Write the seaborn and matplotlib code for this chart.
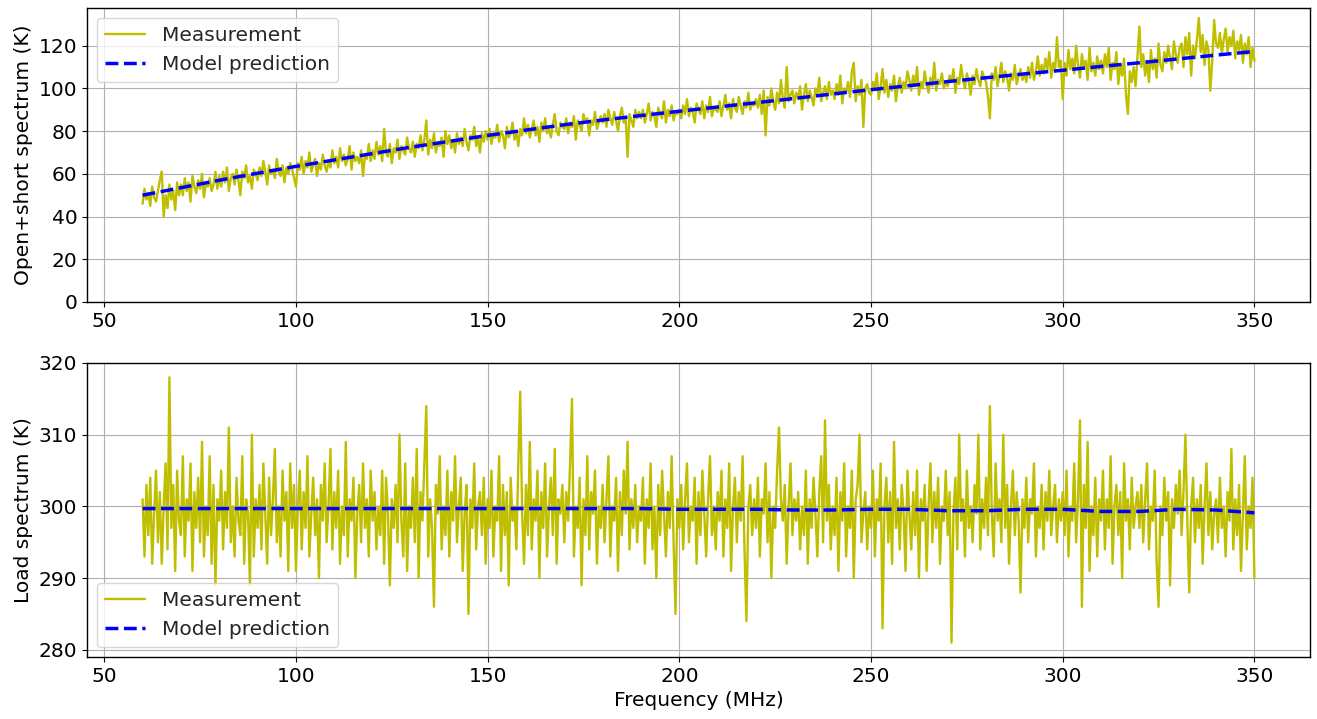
import numpy as np
import matplotlib
matplotlib.use("Agg")
import matplotlib.pyplot as plt
import seaborn as sns

# 측정값 (0.5 MHz 간격, 60 ~ 350 MHz) - 그림에서 읽은 값
open_short_meas = [
    46, 53, 48, 51, 45, 54, 49, 47, 52, 57, 61, 40, 50, 44, 55, 48, 52, 43, 56, 50,
    55, 50, 58, 52, 56, 47, 59, 54, 51, 57, 53, 60, 49, 56, 54, 58, 52, 55, 61, 53,
    59, 54, 61, 56, 63, 52, 58, 60, 55, 62, 57, 50, 61, 58, 64, 56, 59, 53, 62, 60,
    57, 63, 59, 66, 61, 55, 64, 60, 62, 58, 67, 61, 59, 64, 56, 63, 60, 65, 62, 58,
    54, 65, 62, 68, 60, 66, 63, 70, 61, 64, 67, 59, 65, 62, 69, 64, 61, 66, 63, 71,
    65, 68, 63, 72, 66, 69, 64, 67, 73, 62, 70, 66, 68, 65, 71, 59, 69, 67, 74, 66,
    71, 67, 75, 69, 73, 66, 81, 70, 68, 74, 65, 72, 70, 76, 67, 73, 71, 69, 77, 72,
    70, 75, 68, 74, 72, 78, 71, 76, 85, 69, 76, 72, 79, 70, 75, 73, 77, 68, 80, 74,
    78, 72, 76, 70, 79, 74, 77, 73, 81, 75, 71, 78, 76, 82, 73, 77, 70, 79, 75, 80,
    76, 81, 74, 79, 77, 83, 75, 80, 78, 72, 82, 77, 79, 84, 76, 80, 73, 81, 78, 86,
    79, 83, 77, 81, 85, 78, 82, 75, 84, 80, 86, 79, 81, 77, 83, 88, 80, 78, 84, 82,
    81, 86, 79, 84, 82, 87, 76, 85, 83, 80, 88, 84, 86, 78, 85, 83, 89, 81, 84, 87,
    84, 88, 82, 90, 86, 83, 89, 85, 80, 87, 91, 84, 86, 68, 88, 85, 82, 90, 86, 89,
    86, 90, 84, 88, 93, 85, 89, 87, 82, 91, 88, 86, 94, 84, 90, 87, 92, 85, 89, 88,
    90, 86, 92, 88, 95, 87, 91, 89, 84, 93, 90, 88, 94, 86, 92, 89, 96, 87, 91, 90,
    89, 94, 87, 92, 97, 90, 93, 86, 95, 91, 89, 96, 92, 88, 94, 91, 98, 90, 93, 92,
    95, 91, 97, 88, 99, 78, 96, 92, 100, 94, 90, 98, 93, 104, 95, 91, 110, 94, 97, 99,
    93, 98, 95, 101, 90, 97, 102, 94, 99, 96, 92, 100, 97, 105, 94, 98, 101, 95, 103, 97,
    99, 95, 102, 97, 106, 93, 100, 98, 103, 96, 108, 112, 94, 101, 97, 104, 82, 100, 102, 98,
    97, 103, 100, 107, 95, 101, 109, 98, 104, 96, 102, 99, 106, 94, 101, 105, 98, 103, 100, 108,
    104, 99, 106, 101, 110, 97, 103, 100, 108, 102, 98, 105, 101, 112, 99, 104, 102, 107, 100, 103,
    101, 106, 103, 109, 98, 105, 102, 111, 104, 100, 107, 103, 97, 106, 102, 109, 104, 101, 108, 105,
    103, 96, 86, 107, 104, 110, 101, 106, 112, 103, 108, 105, 99, 107, 104, 111, 102, 106, 109, 104,
    107, 103, 110, 105, 112, 104, 108, 115, 106, 111, 107, 114, 109, 117, 105, 112, 108, 124, 110, 113,
    95, 112, 106, 118, 109, 114, 107, 120, 111, 105, 116, 110, 113, 104, 119, 108, 112, 106, 115, 109,
    113, 107, 116, 110, 119, 104, 112, 109, 117, 102, 111, 106, 114, 97, 88, 108, 103, 110, 101, 115,
    129, 110, 116, 106, 113, 103, 118, 109, 114, 105, 121, 111, 108, 117, 112, 120, 114, 109, 122, 116,
    112, 119, 121, 110, 124, 116, 126, 106, 120, 114, 123, 133, 117, 125, 111, 122, 118, 99, 113, 132,
    121, 119, 126, 116, 123, 128, 117, 124, 120, 127, 114, 122, 118, 125, 112, 121, 116, 124, 110, 119,
    113,
]

load_meas = [
    301, 293, 303, 296, 304, 292, 299, 305, 295, 302, 292, 300, 306, 294, 318, 297, 303, 291, 305, 298,
    296, 307, 293, 301, 298, 306, 291, 302, 297, 304, 295, 309, 293, 300, 296, 307, 292, 303, 289, 301,
    298, 305, 294, 302, 297, 311, 295, 300, 293, 304, 298, 296, 307, 292, 301, 299, 289, 310, 293, 301,
    297, 303, 294, 306, 299, 292, 304, 296, 301, 308, 295, 300, 293, 305, 298, 302, 291, 306, 297, 303,
    291, 300, 305, 294, 302, 297, 307, 293, 299, 304, 296, 301, 290, 303, 298, 306, 295, 300, 308, 294,
    302, 297, 305, 292, 300, 296, 309, 293, 301, 298, 304, 290, 299, 303, 295, 306, 297, 301, 293, 305,
    298, 302, 294, 300, 296, 305, 292, 304, 299, 289, 301, 297, 303, 295, 310, 298, 293, 306, 291, 300,
    297, 304, 295, 308, 290, 302, 298, 306, 314, 293, 301, 297, 286, 303, 299, 307, 294, 300, 296, 305,
    293, 302, 298, 307, 295, 300, 304, 291, 299, 303, 285, 301, 297, 306, 294, 300, 302, 296, 304, 292,
    301, 297, 305, 293, 300, 298, 307, 291, 303, 296, 302, 289, 304, 298, 300, 294, 306, 316, 299, 292,
    303, 296, 309, 294, 301, 298, 305, 290, 302, 297, 306, 293, 300, 304, 296, 308, 292, 301, 299, 303,
    295, 302, 298, 306, 315, 293, 300, 297, 304, 289, 301, 296, 307, 294, 302, 299, 305, 292, 300, 297,
    303, 295, 301, 307, 293, 300, 298, 304, 291, 302, 296, 305, 299, 309, 294, 301, 297, 303, 295, 300,
    298, 304, 292, 301, 297, 306, 294, 300, 290, 303, 296, 305, 299, 293, 302, 297, 307, 295, 285, 301,
    297, 303, 294, 301, 306, 295, 300, 298, 304, 292, 302, 296, 305, 299, 293, 301, 307, 296, 300, 294,
    302, 298, 305, 293, 301, 297, 306, 291, 300, 304, 295, 302, 298, 307, 294, 284, 300, 303, 296, 301,
    297, 304, 293, 301, 299, 306, 295, 302, 290, 300, 297, 305, 311, 301, 298, 303, 292, 300, 306, 296,
    301, 298, 302, 294, 300, 296, 305, 292, 301, 297, 304, 299, 293, 302, 307, 295, 312, 298, 303, 294,
    300, 296, 304, 291, 302, 298, 306, 293, 300, 297, 305, 290, 301, 303, 310, 295, 299, 302, 294, 300,
    297, 305, 293, 301, 298, 306, 283, 300, 304, 295, 302, 292, 309, 297, 301, 294, 303, 299, 291, 305,
    299, 294, 302, 296, 305, 290, 301, 298, 303, 291, 300, 306, 295, 302, 297, 304, 292, 300, 298, 305,
    296, 302, 281, 299, 304, 294, 310, 298, 301, 293, 305, 297, 300, 295, 303, 299, 310, 294, 301, 297,
    304, 296, 314, 299, 293, 306, 298, 301, 295, 310, 297, 303, 292, 300, 305, 296, 302, 298, 288, 301,
    297, 304, 295, 301, 299, 306, 293, 300, 297, 303, 294, 302, 298, 305, 296, 300, 303, 295, 301, 298,
    302, 296, 305, 293, 300, 298, 306, 295, 301, 312, 286, 303, 297, 309, 291, 300, 296, 304, 293, 301,
    298, 305, 294, 301, 297, 307, 292, 300, 303, 296, 302, 290, 306, 298, 301, 294, 304, 297, 300, 302,
    297, 303, 295, 301, 306, 294, 300, 298, 305, 292, 286, 300, 296, 304, 298, 302, 289, 301, 297, 303,
    299, 305, 296, 302, 310, 298, 288, 300, 304, 295, 301, 297, 303, 292, 300, 306, 296, 302, 294, 299,
    301, 295, 304, 297, 300, 293, 302, 298, 308, 294, 301, 296, 303, 291, 299, 307, 294, 300, 297, 304,
    290,
]

# 모델 예측값 (10 MHz 간격)
model_freq = [60, 70, 80, 90, 100, 110, 120, 130, 140, 150, 160, 170, 180, 190, 200,
              210, 220, 230, 240, 250, 260, 270, 280, 290, 300, 310, 320, 330, 340, 350]
open_short_model = [50, 53.5, 57, 60.3, 63.5, 66.5, 69.5, 72.5, 75.2, 78, 80.5, 83, 85.2, 87.3, 89.3,
                    91.3, 93.3, 95.3, 97.4, 99.4, 101.3, 103.2, 105, 106.8, 108.5, 110.3, 112, 113.8, 115.6, 117.3]
load_model = [299.7, 299.7, 299.7, 299.7, 299.7, 299.7, 299.7, 299.7, 299.7, 299.7, 299.7, 299.7, 299.7, 299.7, 299.6,
              299.6, 299.6, 299.5, 299.5, 299.6, 299.6, 299.4, 299.4, 299.6, 299.6, 299.3, 299.3, 299.6, 299.5, 299.1]

freq = np.linspace(60, 350, len(open_short_meas))

meas_color = '#bfbf00'  # matplotlib 'y'
model_color = '#0000ff'  # matplotlib 'b'

sns.set_theme(style="ticks", rc={"axes.grid": True, "grid.color": "#b0b0b0",
                                 "axes.edgecolor": "black", "xtick.color": "black",
                                 "ytick.color": "black", "axes.labelcolor": "black"})
plt.rcParams['font.family'] = ['DejaVu Sans']

fig, (ax1, ax2) = plt.subplots(2, 1, figsize=(13.17, 7.19), dpi=100)
fig.subplots_adjust(left=87/1317, right=1310/1317, top=1-8/719, bottom=1-657/719, hspace=61/294)

# 위쪽: open+short
sns.lineplot(x=freq, y=open_short_meas, ax=ax1, color=meas_color, linewidth=1.7,
             label='Measurement', estimator=None, sort=False)
sns.lineplot(x=model_freq, y=open_short_model, ax=ax1, color=model_color, linewidth=2.5,
             linestyle='--', label='Model prediction', estimator=None, sort=False)
ax1.set_ylim(bottom=0)
ax1.set_ylabel('Open+short spectrum (K)', fontsize=14.5)
ax1.legend(loc='upper left', fontsize=14.5)

# 아래쪽: load
sns.lineplot(x=freq, y=load_meas, ax=ax2, color=meas_color, linewidth=1.7,
             label='Measurement', estimator=None, sort=False)
sns.lineplot(x=model_freq, y=load_model, ax=ax2, color=model_color, linewidth=2.5,
             linestyle='--', label='Model prediction', estimator=None, sort=False)
ax2.set_ylim(279.0, 320.0)
ax2.set_yticks([280, 290, 300, 310, 320])
ax2.set_ylabel('Load spectrum (K)', fontsize=14.5)
ax2.set_xlabel('Frequency (MHz)', fontsize=14.5)
ax2.legend(loc='lower left', fontsize=14.5)

for ax in (ax1, ax2):
    ax.tick_params(labelsize=14.5, length=3.5, width=0.8)
    ax.set_xticks([50, 100, 150, 200, 250, 300, 350])
    ax.grid(True, color='#b0b0b0', linewidth=0.8)
    for s in ax.spines.values():
        s.set_visible(True)
        s.set_linewidth(1.0)

fig.savefig('out.png', dpi=100)
